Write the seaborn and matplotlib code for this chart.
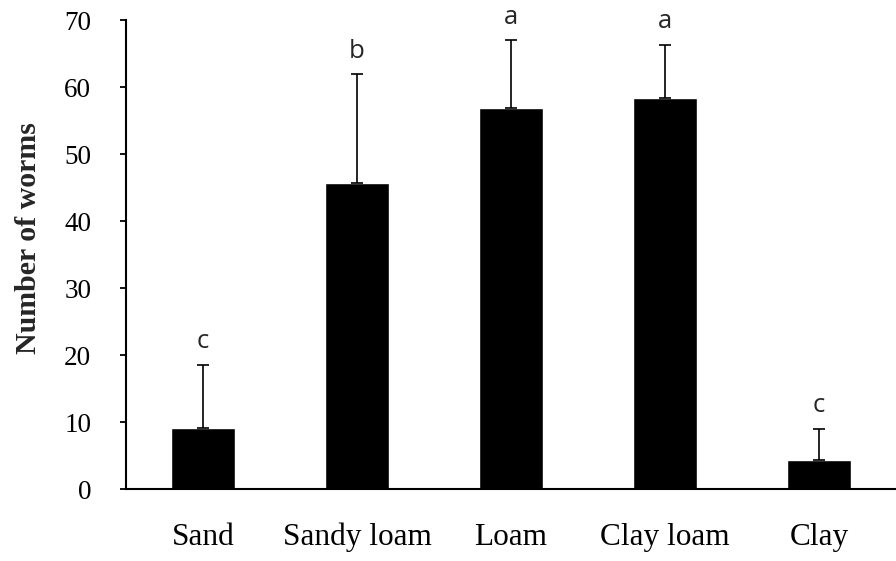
import matplotlib
import numpy as np
import pandas as pd

matplotlib.use("Agg")
import matplotlib.pyplot as plt
import seaborn as sns

soils   = ["Sand", "Sandy loam", "Loam", "Clay loam", "Clay"]
worms   = [9.1, 45.7, 56.9, 58.4, 4.3]
sd      = [9.4, 16.2, 10.1, 7.9, 4.7]
letters = ["c", "b", "a", "a", "c"]

sns.set_style("ticks")
plt.rcParams["font.family"] = ["Liberation Serif", "DejaVu Serif"]

df = pd.DataFrame({"soil": soils, "worms": worms})

fig, ax = plt.subplots(figsize=(8.96, 5.61), dpi=100)
fig.subplots_adjust(left=0.1406, right=1.0, top=0.964, bottom=0.128)

sns.barplot(data=df, x="soil", y="worms", color="black", width=0.41,
            saturation=1, errorbar=None, ax=ax)
ax.errorbar(np.arange(len(soils)), worms, yerr=[np.zeros(len(sd)), sd],
            fmt="none", ecolor="black", elinewidth=1.2, capsize=4.3,
            capthick=1.2)

# significance letters above the error bars
for i, (v, e, l) in enumerate(zip(worms, sd, letters)):
    ax.text(i, v + e + 2.5, l, ha="center", va="baseline", fontsize=18.5,
            family=["Open Sans", "DejaVu Sans"])

ax.set_xlim(-0.5, len(soils) - 0.5)
ax.set_ylim(0, 70)
ax.set_yticks(range(0, 71, 10))
ax.set_xlabel("")
ax.set_ylabel("Number of worms", fontsize=21.5, fontweight="bold")
ax.yaxis.set_label_coords(-0.109, 0.535)

sns.despine(ax=ax, top=True, right=True)
for s in ["left", "bottom"]:
    ax.spines[s].set_linewidth(1.5)
    ax.spines[s].set_color("black")
ax.tick_params(axis="y", length=4, width=1.3, pad=21, labelsize=19.5, colors="black")
ax.tick_params(axis="x", length=0, pad=24, labelsize=22.5, colors="black")

plt.savefig("out.png", dpi=100)
plt.close()
